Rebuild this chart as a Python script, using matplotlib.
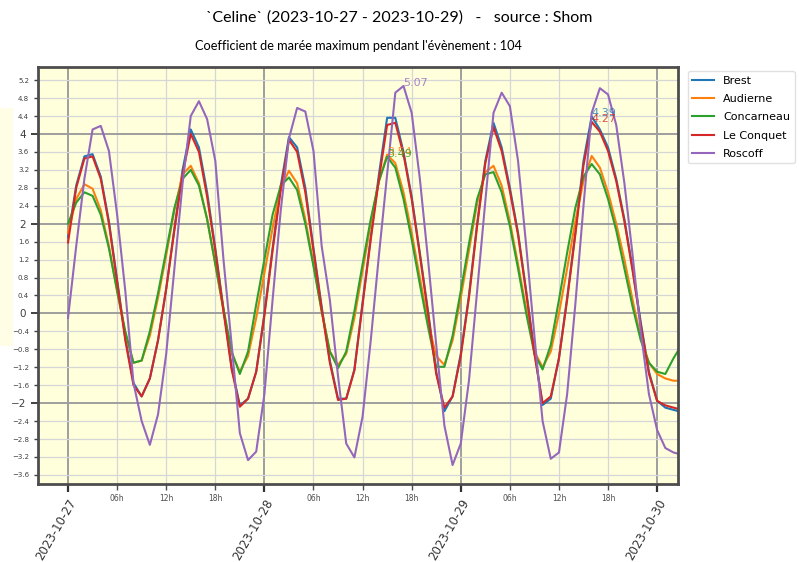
import matplotlib
matplotlib.use("Agg")
import matplotlib.pyplot as plt
import matplotlib.dates as mdates
from matplotlib.ticker import MultipleLocator, FuncFormatter
from matplotlib.patches import Rectangle
import pandas as pd

start = "2023-10-27 00:00"
stations = ["Brest", "Audierne", "Concarneau", "Le Conquet", "Roscoff"]
colors = ["#1f77b4", "#ff7f0e", "#2ca02c", "#d62728", "#9467bd"]

brest = [1.70, 2.85, 3.50, 3.55, 3.05, 2.05, 0.75, -0.55, -1.55, -1.85,
         -1.45, -0.60, 0.55, 1.90, 3.20, 4.10, 3.70, 2.70, 1.45, 0.10,
         -1.20, -2.05, -1.90, -1.30, 0.00, 1.45, 2.85, 3.93, 3.70, 2.80,
         1.45, 0.15, -1.05, -1.90, -1.90, -1.25, 0.25, 1.70, 3.10, 4.36,
         4.36, 3.60, 2.60, 1.35, 0.05, -1.30, -2.18, -1.85, -0.90, 0.40,
         2.00, 3.40, 4.25, 3.70, 2.80, 1.80, 0.50, -0.85, -2.04, -1.90,
         -1.00, 0.35, 1.80, 3.40, 4.39, 4.10, 3.70, 3.00, 2.10, 1.00,
         -0.20, -1.30, -1.95, -2.10, -2.15, -2.20]
audierne = [1.80, 2.55, 2.88, 2.78, 2.30, 1.50, 0.50, -0.45, -1.10, -1.05,
            -0.50, 0.35, 1.30, 2.30, 3.10, 3.29, 2.90, 2.10, 1.10, 0.05,
            -0.90, -1.30, -0.95, -0.10, 0.90, 1.90, 2.80, 3.18, 2.90, 2.10,
            1.10, 0.05, -0.85, -1.15, -0.90, -0.10, 0.95, 2.00, 2.95, 3.54,
            3.35, 2.70, 1.80, 0.80, -0.20, -0.95, -1.15, -0.60, 0.35, 1.40,
            2.45, 3.15, 3.29, 2.85, 2.05, 1.10, 0.10, -0.85, -1.20, -0.85,
            0.00, 1.00, 2.05, 2.95, 3.51, 3.25, 2.70, 2.00, 1.20, 0.30,
            -0.55, -1.10, -1.35, -1.45, -1.50, -1.50]
concarneau = [2.00, 2.47, 2.70, 2.62, 2.20, 1.45, 0.50, -0.40, -1.10, -1.05,
              -0.40, 0.45, 1.40, 2.35, 3.00, 3.20, 2.85, 2.10, 1.10, 0.10,
              -0.85, -1.35, -0.85, 0.20, 1.20, 2.20, 2.85, 3.03, 2.75, 2.00,
              1.05, 0.05, -0.85, -1.22, -0.85, 0.05, 1.10, 2.10, 2.95, 3.49,
              3.25, 2.55, 1.65, 0.65, -0.30, -1.19, -1.19, -0.50, 0.50, 1.55,
              2.55, 3.10, 3.15, 2.70, 1.95, 1.00, 0.00, -0.90, -1.25, -0.70,
              0.30, 1.35, 2.35, 3.05, 3.33, 3.10, 2.55, 1.85, 1.00, 0.15,
              -0.60, -1.10, -1.30, -1.35, -1.00, -0.70]
le_conquet = [1.58, 2.80, 3.45, 3.50, 3.00, 2.00, 0.70, -0.60, -1.60, -1.85,
              -1.45, -0.60, 0.55, 1.85, 3.10, 4.00, 3.60, 2.60, 1.40, 0.05,
              -1.25, -2.08, -1.90, -1.30, -0.05, 1.40, 2.75, 3.87, 3.60, 2.70,
              1.40, 0.10, -1.10, -1.93, -1.90, -1.27, 0.20, 1.65, 3.00, 4.20,
              4.25, 3.55, 2.55, 1.30, 0.00, -1.35, -2.10, -1.85, -0.95, 0.35,
              1.95, 3.35, 4.15, 3.62, 2.73, 1.75, 0.45, -0.90, -2.00, -1.85,
              -1.00, 0.30, 1.75, 3.30, 4.27, 4.05, 3.62, 2.95, 2.05, 0.95,
              -0.25, -1.35, -1.95, -2.05, -2.10, -2.15]
roscoff = [-0.10, 1.50, 3.00, 4.10, 4.18, 3.62, 2.20, 0.50, -1.55, -2.40,
           -2.93, -2.25, -0.90, 1.00, 2.90, 4.40, 4.73, 4.33, 3.40, 1.20,
           -0.70, -2.67, -3.27, -3.08, -1.80, 0.30, 2.30, 3.90, 4.58, 4.50,
           3.62, 1.50, 0.30, -1.40, -2.90, -3.21, -2.30, -0.60, 1.30, 3.10,
           4.92, 5.07, 4.47, 3.00, 1.20, -0.70, -2.50, -3.38, -2.90, -1.50,
           0.50, 2.50, 4.47, 4.92, 4.62, 3.40, 1.50, -0.50, -2.40, -3.24,
           -3.10, -1.80, 0.20, 2.40, 4.47, 5.02, 4.88, 4.20, 2.90, 1.30,
           -0.40, -1.80, -2.60, -3.00, -3.10, -3.15]

series = [brest, audierne, concarneau, le_conquet, roscoff]
times = pd.date_range(start, periods=len(brest), freq="h")

title = "`Celine` (2023-10-27 - 2023-10-29)   -   source : Shom"
subtitle = "Coefficient de marée maximum pendant l'évènement : 104"

fig = plt.figure(figsize=(7.99, 5.62), dpi=100)
fig.patches.append(Rectangle((0, (562 - 345) / 562), 12 / 799, 237 / 562,
                             transform=fig.transFigure, color="#fffde6",
                             zorder=0))
ax = fig.add_axes([38 / 799, 1 - 484 / 562, 640 / 799, 417 / 562])
ax.set_facecolor("#ffffdc")

for name, vals, col in zip(stations, series, colors):
    ax.plot(times, vals, color=col, lw=1.5, label=name)

for name, vals, col in zip(stations, series, colors):
    i = max(range(len(vals)), key=lambda k: vals[k])
    ax.annotate(f"{vals[i]:.2f}", (times[i], vals[i]), color=col,
                fontsize=8, alpha=0.8)

t0 = pd.Timestamp(start)
ax.set_xlim(t0 - pd.Timedelta(hours=3.67), t0 + pd.Timedelta(hours=74.55))

ax.xaxis.set_major_locator(mdates.DayLocator())
ax.xaxis.set_major_formatter(mdates.DateFormatter("%Y-%m-%d"))
ax.xaxis.set_minor_locator(mdates.HourLocator(byhour=[6, 12, 18]))
ax.xaxis.set_minor_formatter(mdates.DateFormatter("%Hh"))
ax.yaxis.set_major_locator(MultipleLocator(2))
ax.yaxis.set_minor_locator(MultipleLocator(0.4))
ax.yaxis.set_minor_formatter(FuncFormatter(
    lambda v, p: f"{v:.1f}".replace("-", "\u2212")))

ax.grid(which="major", color="0.62", lw=1.4)
ax.grid(which="minor", color="0.84", lw=0.9)
ax.set_axisbelow(True)

ax.tick_params(which="major", axis="y", labelsize=7.5, length=5, width=1.4,
               colors="0.25")
ax.tick_params(which="minor", axis="y", labelsize=5, length=3, width=1.0,
               colors="0.25")
ax.tick_params(which="major", axis="x", labelsize=8.5, length=6, width=1.6,
               colors="0.2")
ax.tick_params(which="minor", axis="x", labelsize=5.5, length=4, width=1.0,
               colors="0.3")
for lab in ax.get_xticklabels():
    lab.set_rotation(60)
    lab.set_ha("right")
    lab.set_va("top")
    lab.set_rotation_mode("anchor")

for sp in ax.spines.values():
    sp.set_color("0.3")
    sp.set_linewidth(2)

ax.set_title(subtitle, fontsize=9.2, family="Lato", pad=12)
fig.text(0.5, 1 - 18 / 562, title, ha="center", va="center",
         fontsize=11.5, family="Lato")

ax.legend(loc="upper left", bbox_to_anchor=(1.015, 0.99), fontsize=8,
          labelspacing=0.75, borderaxespad=0.0, edgecolor="0.85")

fig.savefig("out.png", dpi=100)
